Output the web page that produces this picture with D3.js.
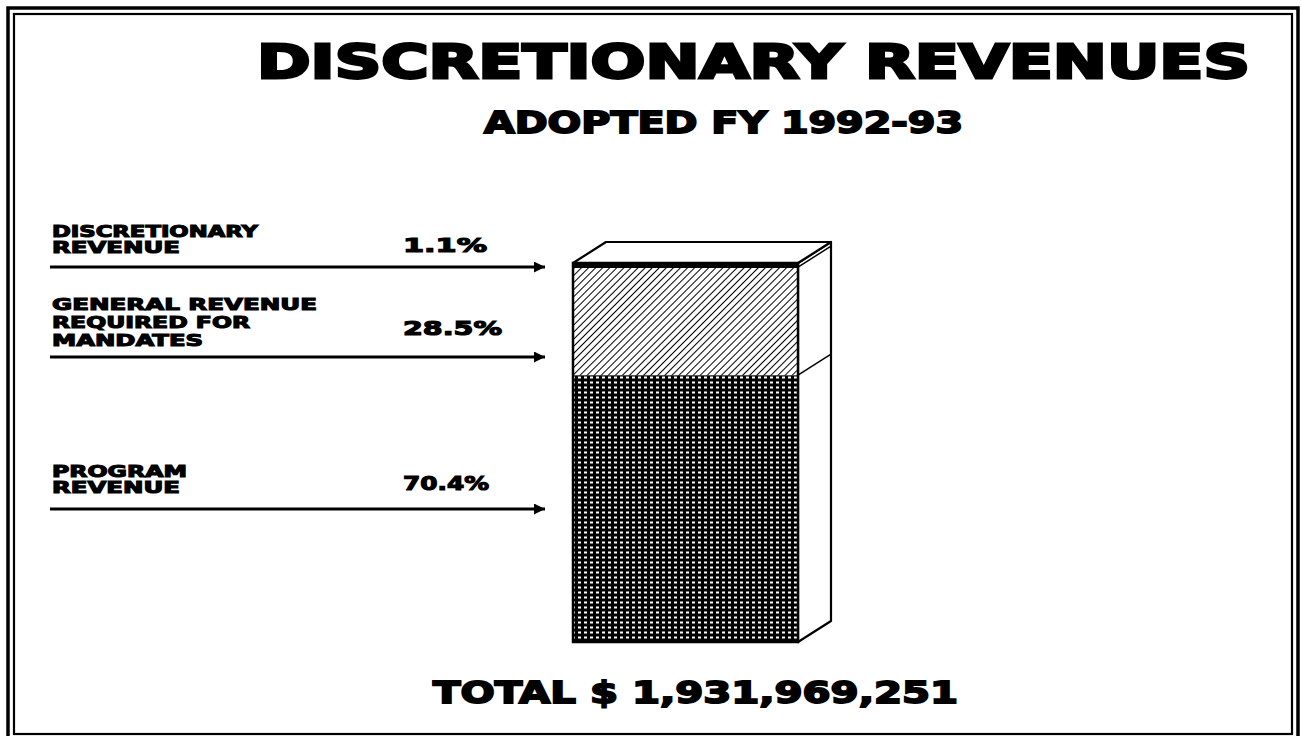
<!DOCTYPE html>
<html>
<head>
<meta charset="utf-8">
<script src="https://cdn.jsdelivr.net/npm/d3@7"></script>
<style>
  html, body { margin: 0; padding: 0; background: #fff; }
  svg { display: block; }
  text { font-family: "DejaVu Sans", "Liberation Sans", sans-serif; font-weight: bold; fill: #000; }
</style>
</head>
<body>
<svg id="chart" width="1301" height="736"></svg>
<script>
// ---- data ----
const title = "DISCRETIONARY REVENUES";
const subtitle = "ADOPTED FY 1992-93";
const totalLabel = "TOTAL $ 1,931,969,251";
// stacked from bottom to top
const categories = ["PROGRAM REVENUE", "GENERAL REVENUE REQUIRED FOR MANDATES", "DISCRETIONARY REVENUE"];
const values = [70.4, 28.5, 1.1];
const percentLabels = ["70.4%", "28.5%", "1.1%"];
const labelLines = [["PROGRAM", "REVENUE"], ["GENERAL REVENUE", "REQUIRED FOR", "MANDATES"], ["DISCRETIONARY", "REVENUE"]];

// ---- layout ----
const svg = d3.select("#chart");

// border (double frame)
svg.append("path")
  .attr("d", `M8,736 L8,8 L1298,8 L1298,736`)
  .attr("fill", "none").attr("stroke", "#000").attr("stroke-width", 3.5);
svg.append("rect")
  .attr("x", 14).attr("y", 14).attr("width", 1278).attr("height", 720)
  .attr("fill", "none").attr("stroke", "#000").attr("stroke-width", 2.2);

// patterns
const defs = svg.append("defs");
const hatch = defs.append("pattern").attr("id", "hatch")
  .attr("patternUnits", "userSpaceOnUse").attr("width", 5).attr("height", 5)
  .attr("patternTransform", "rotate(45)");
hatch.append("rect").attr("width", 5).attr("height", 5).attr("fill", "#fff");
hatch.append("line").attr("x1", 0).attr("y1", 0).attr("x2", 0).attr("y2", 5)
  .attr("stroke", "#000").attr("stroke-width", 2);

const grid = defs.append("pattern").attr("id", "grid")
  .attr("patternUnits", "userSpaceOnUse").attr("width", 6).attr("height", 5);
grid.append("rect").attr("width", 6).attr("height", 5).attr("fill", "#000");
grid.append("rect").attr("x", 2).attr("y", 1.5).attr("width", 3).attr("height", 2).attr("fill", "#fff");

const fills = ["url(#grid)", "url(#hatch)", "#000"];

// scales
const x = d3.scaleBand().domain(["total"]).range([573, 798]).padding(0);
const y = d3.scaleLinear().domain([0, 100]).range([642, 263]);
const depthX = 33, depthY = -21;

// stack
const stacked = [];
let acc = 0;
values.forEach((v, i) => { stacked.push({ cat: categories[i], y0: acc, y1: acc + v, i }); acc += v; });

const bx = x("total"), bw = x.bandwidth();

// side face
svg.append("path")
  .attr("d", `M${bx + bw},${y(acc)} L${bx + bw + depthX},${y(acc) + depthY} L${bx + bw + depthX},${y(0) + depthY} L${bx + bw},${y(0)} Z`)
  .attr("fill", "#fff").attr("stroke", "#000").attr("stroke-width", 2.2).attr("stroke-linejoin", "round");
// top face
svg.append("path")
  .attr("d", `M${bx},${y(acc)} L${bx + depthX},${y(acc) + depthY} L${bx + bw + depthX},${y(acc) + depthY} L${bx + bw},${y(acc)} Z`)
  .attr("fill", "#fff").attr("stroke", "#000").attr("stroke-width", 2.2).attr("stroke-linejoin", "round");

// segment boundaries on side face
svg.selectAll("line.side").data(stacked.slice(0, -1)).join("line")
  .attr("class", "side")
  .attr("x1", bx + bw).attr("y1", d => y(d.y1))
  .attr("x2", bx + bw + depthX).attr("y2", d => y(d.y1) + depthY)
  .attr("stroke", "#000").attr("stroke-width", 1.5);

// front segments
svg.selectAll("rect.seg").data(stacked).join("rect")
  .attr("class", "seg")
  .attr("x", bx).attr("width", bw)
  .attr("y", d => y(d.y1)).attr("height", d => y(d.y0) - y(d.y1))
  .attr("fill", d => fills[d.i]);
// front outline
svg.append("rect")
  .attr("x", bx).attr("y", y(acc)).attr("width", bw).attr("height", y(0) - y(acc))
  .attr("fill", "none").attr("stroke", "#000").attr("stroke-width", 2.5);
// top band edge emphasis
svg.append("line")
  .attr("x1", bx).attr("x2", bx + bw).attr("y1", y(acc) + 2.5).attr("y2", y(acc) + 2.5)
  .attr("stroke", "#000").attr("stroke-width", 5);

// annotation layout (label blocks, arrows)
const labelLayout = [
  { baselines: [477, 493], widths: [135, 128], pctBase: 490, pctW: 86, arrowY: 509 },
  { baselines: [310, 328, 346], widths: [265, 198, 151], pctBase: 335, pctW: 99, arrowY: 357 },
  { baselines: [237, 253], widths: [206, 128], pctBase: 252, pctW: 84, arrowY: 267 }
];

function stretchText(sel, str, xPos, yPos, size, len, sw) {
  return sel.append("text")
    .attr("x", xPos).attr("y", yPos)
    .attr("font-size", size)
    .attr("textLength", len).attr("lengthAdjust", "spacingAndGlyphs")
    .attr("stroke", "#000").attr("stroke-width", size * (sw || 0.05))
    .text(str);
}

defs.append("marker").attr("id", "arrow")
  .attr("viewBox", "0 0 10 10").attr("refX", 10).attr("refY", 5)
  .attr("markerUnits", "userSpaceOnUse")
  .attr("markerWidth", 14).attr("markerHeight", 11).attr("orient", "auto")
  .append("path").attr("d", "M0,0 L10,5 L0,10 Z").attr("fill", "#000");

stacked.forEach((d, i) => {
  const L = labelLayout[i];
  labelLines[i].forEach((line, j) => {
    stretchText(svg, line, 52, L.baselines[j], 15, L.widths[j], 0.07);
  });
  stretchText(svg, percentLabels[i], 403, L.pctBase, 20, L.pctW, 0.06);
  svg.append("line")
    .attr("x1", 50).attr("x2", 545).attr("y1", L.arrowY).attr("y2", L.arrowY)
    .attr("stroke", "#000").attr("stroke-width", 3)
    .attr("marker-end", "url(#arrow)");
});

// titles
stretchText(svg, title, 257, 78, 46, 993, 0.06);
stretchText(svg, subtitle, 484, 133, 31, 479, 0.06);
stretchText(svg, totalLabel, 433, 703, 31, 525, 0.06);
</script>
</body>
</html>
